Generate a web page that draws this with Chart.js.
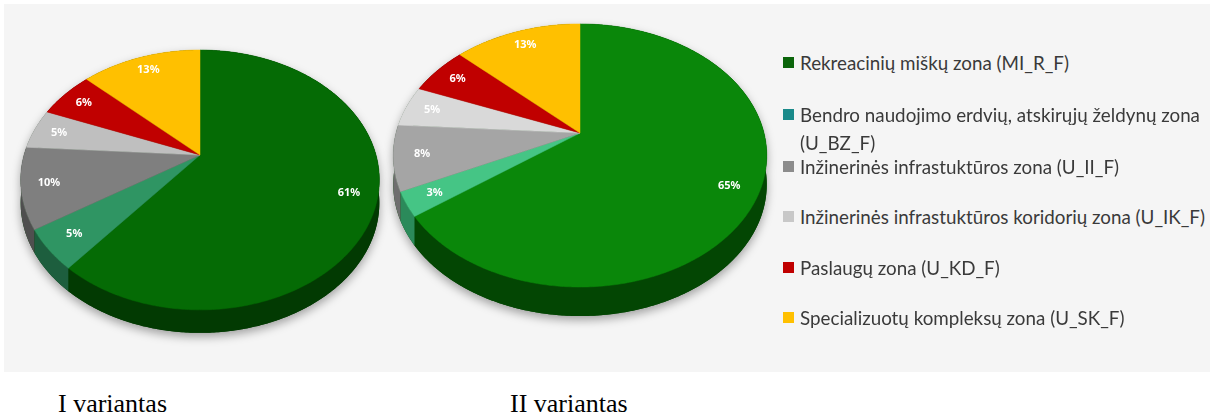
<!DOCTYPE html>
<html>
<head>
<meta charset="utf-8">
<script src="https://cdn.jsdelivr.net/npm/chart.js@4.4.1/dist/chart.umd.min.js"></script>
<style>
  html, body { margin: 0; padding: 0; background: #fff; }
  #page { position: relative; width: 1214px; height: 417px; overflow: hidden; }
  #panel { position: absolute; left: 4px; top: 4px; width: 1206px; height: 368px; background: #f5f5f5; }
  canvas { position: absolute; }
  #legend { position: absolute; left: 0; top: 0; font-family: Lato, "Noto Sans", sans-serif; font-size: 18.8px; color: #3a3a3a; }
  .item { position: absolute; left: 783px; white-space: nowrap; line-height: 28px; }
  .item span.box { position: absolute; left: 0; top: 8px; width: 11px; height: 11px; }
  .item span.txt { position: absolute; left: 17px; top: 0; }
  .caption { position: absolute; top: 391px; line-height: 26px; font-family: "Liberation Serif", "Times New Roman", serif; font-size: 26px; color: #000; }
</style>
</head>
<body>
<div id="page">
  <div id="panel"></div>
  <canvas id="pie1" width="400" height="400" style="left:0px;top:-21px;"></canvas>
  <canvas id="pie2" width="400" height="420" style="left:380px;top:-51px;"></canvas>
  <div id="legend"></div>
  <div class="caption" style="left:58px;">I variantas</div>
  <div class="caption" style="left:510px;">II variantas</div>
</div>
<script>
// zones (legend order = slice order)
const zoneLabels = [
    'Rekreacinių miškų zona (MI_R_F)',
    'Bendro naudojimo erdvių, atskirųjų želdynų zona\n(U_BZ_F)',
    'Inžinerinės infrastuktūros zona (U_II_F)',
    'Inžinerinės infrastuktūros koridorių zona (U_IK_F)',
    'Paslaugų zona (U_KD_F)',
    'Specializuotų kompleksų zona (U_SK_F)'
];
const variantI = [61, 5, 10, 5, 6, 13];
const variantII = [65, 3, 8, 5, 6, 13];

const colorsI = ['#056b05', '#2f9563', '#7f7f7f', '#bfbfbf', '#c00000', '#ffc000'];
const sidesI = ['#023a02', '#1d5e3e', '#4f4f4f', '#8a8a8a', '#7a0000', '#b08500'];
const colorsII = ['#0a870a', '#45c585', '#a5a5a5', '#d9d9d9', '#c00000', '#ffc000'];
const sidesII = ['#034603', '#2b8a5a', '#6e6e6e', '#a0a0a0', '#7a0000', '#b08500'];
const legendColors = ['#0b650b', '#1a8a8a', '#8c8c8c', '#c8c8c8', '#c00000', '#ffc000'];
const legendTops = [49, 101, 153, 203, 254, 304];

// 3d look: squash (k), perspective (b), thickness (depth)
function pie3d(k, b, depth, sides) {
    return {
        id: 'pie3d',
        beforeDatasetsDraw(chart) {
            const ctx = chart.ctx;
            const arcs = chart.getDatasetMeta(0).data;
            const values = chart.data.datasets[0].data;
            const colors = chart.data.datasets[0].backgroundColor;
            const cx = arcs[0].x, cy = arcs[0].y, R = arcs[0].outerRadius;

            function proj(a, r, dy) {
                const u = r * Math.cos(a), v = r * Math.sin(a);
                const den = 1 - b * v;
                return [cx + R * u / den, cy + R * k * v / den + dy];
            }
            function arcPts(a0, a1, dy) {
                const pts = [];
                const n = Math.max(2, Math.ceil((a1 - a0) / 0.01));
                for (let i = 0; i <= n; i++) pts.push(proj(a0 + (a1 - a0) * i / n, 1, dy));
                return pts;
            }

            ctx.save();
            // shadow under whole pie
            ctx.shadowColor = 'rgba(0,0,0,0.35)';
            ctx.shadowBlur = 10;
            ctx.shadowOffsetY = 4;
            ctx.fillStyle = sides[0];
            ctx.beginPath();
            [0, depth].forEach(function (dy) {
                arcPts(0, Math.PI * 2, dy).forEach(function (p, i) {
                    if (i === 0) ctx.moveTo(p[0], p[1]); else ctx.lineTo(p[0], p[1]);
                });
                ctx.closePath();
            });
            ctx.fill();
            ctx.restore();

            // side walls
            arcs.forEach(function (arc, i) {
                const top = arcPts(arc.startAngle, arc.endAngle, 0);
                const bot = arcPts(arc.startAngle, arc.endAngle, depth).reverse();
                ctx.fillStyle = sides[i];
                ctx.beginPath();
                top.concat(bot).forEach(function (p, j) {
                    if (j === 0) ctx.moveTo(p[0], p[1]); else ctx.lineTo(p[0], p[1]);
                });
                ctx.closePath();
                ctx.fill();
            });

            // top faces
            arcs.forEach(function (arc, i) {
                ctx.fillStyle = colors[i];
                ctx.strokeStyle = colors[i];
                ctx.lineWidth = 0.5;
                ctx.beginPath();
                ctx.moveTo(cx, cy);
                arcPts(arc.startAngle, arc.endAngle, 0).forEach(function (p) { ctx.lineTo(p[0], p[1]); });
                ctx.closePath();
                ctx.fill();
                ctx.stroke();
            });

            // percent labels
            ctx.fillStyle = '#ffffff';
            ctx.font = 'bold 11px "Noto Sans", sans-serif';
            ctx.textAlign = 'center';
            ctx.textBaseline = 'middle';
            arcs.forEach(function (arc, i) {
                const mid = (arc.startAngle + arc.endAngle) / 2;
                const p = proj(mid, 0.85, 0);
                ctx.fillText(values[i] + '%', p[0], p[1]);
            });
            return false;
        }
    };
}

function makeChart(id, values, colors, sides, pad, k, b, depth) {
    new Chart(document.getElementById(id), {
        type: 'pie',
        data: {
            labels: zoneLabels,
            datasets: [{ data: values, backgroundColor: colors, borderWidth: 0 }]
        },
        options: {
            responsive: false,
            animation: false,
            devicePixelRatio: 1,
            events: [],
            layout: { padding: pad },
            plugins: { legend: { display: false }, tooltip: { enabled: false } }
        },
        plugins: [pie3d(k, b, depth, sides)]
    });
}

makeChart('pie1', variantI, colorsI, sidesI, { left: 24, right: 24, top: 0, bottom: 48 }, 0.711, 0.192, 23);
makeChart('pie2', variantII, colorsII, sidesII, { left: 16, right: 16, top: 0, bottom: 52 }, 0.694, 0.171, 29);

// legend
const legend = document.getElementById('legend');
zoneLabels.forEach(function (label, i) {
    const item = document.createElement('div');
    item.className = 'item';
    item.style.top = legendTops[i] + 'px';
    const box = document.createElement('span');
    box.className = 'box';
    box.style.background = legendColors[i];
    const txt = document.createElement('span');
    txt.className = 'txt';
    txt.innerHTML = label.replace('\n', '<br>');
    item.appendChild(box);
    item.appendChild(txt);
    legend.appendChild(item);
});
</script>
</body>
</html>
